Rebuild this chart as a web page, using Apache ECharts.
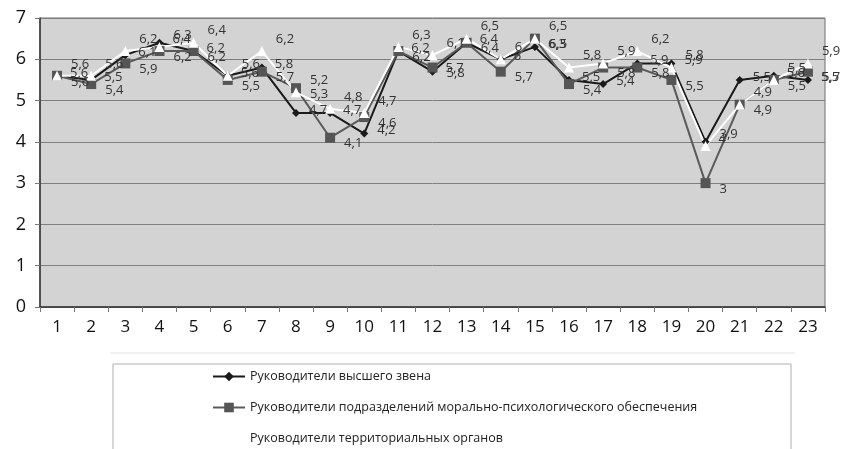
<!DOCTYPE html>
<html>
<head>
<meta charset="utf-8">
<script src="https://cdn.jsdelivr.net/npm/echarts@6/dist/echarts.min.js"></script>
<style>
  html, body { margin: 0; padding: 0; background: #fff; }
  #chart { width: 841px; height: 449px; }
</style>
</head>
<body>
<div id="chart"></div>
<script>
// данные с картинки
var categories = ['1','2','3','4','5','6','7','8','9','10','11','12','13','14','15','16','17','18','19','20','21','22','23'];
var seriesNames = [
  'Руководители высшего звена',
  'Руководители подразделений морально-психологического обеспечения',
  'Руководители территориальных органов'
];
var topLeaders = [5.6, 5.5, 6.1, 6.4, 6.2, 5.6, 5.8, 4.7, 4.7, 4.2, 6.2, 5.7, 6.4, 6.0, 6.3, 5.5, 5.4, 5.9, 5.9, 4.0, 5.5, 5.6, 5.5];
var mpoLeaders = [5.6, 5.4, 5.9, 6.2, 6.2, 5.5, 5.7, 5.3, 4.1, 4.6, 6.2, 5.8, 6.4, 5.7, 6.5, 5.4, 5.8, 5.8, 5.5, 3.0, 4.9, 5.5, 5.7];
var territorialLeaders = [5.6, 5.6, 6.2, 6.3, 6.4, 5.6, 6.2, 5.2, 4.8, 4.7, 6.3, 6.1, 6.5, 6.0, 6.5, 5.8, 5.9, 6.2, 5.8, 3.9, 4.9, 5.5, 5.9];

var chart = echarts.init(document.getElementById('chart'));

function commaLabel(p) {
  return String(p.value).replace('.', ',');
}

function labelStyle(offsetY) {
  return {
    show: true,
    position: 'right',
    distance: 9,
    offset: [0, offsetY],
    formatter: commaLabel,
    color: '#333',
    fontSize: 13,
    fontFamily: 'Open Sans'
  };
}

var option = {
  animation: false,
  backgroundColor: '#fff',
  grid: {
    left: 40, top: 18, right: 16, bottom: 142,
    show: true,
    backgroundColor: '#d3d3d3',
    borderColor: '#6e6e6e',
    borderWidth: 1
  },
  legend: {
    orient: 'vertical',
    left: 212,
    top: 370,
    padding: 0,
    itemWidth: 32,
    itemHeight: 12,
    itemGap: 18,
    textStyle: { color: '#222', fontSize: 12.5, fontFamily: 'Open Sans' },
    data: seriesNames
  },
  graphic: [
    { type: 'line', shape: { x1: 110, y1: 353, x2: 795, y2: 353 }, style: { stroke: '#e2e2e2', lineWidth: 1 }, silent: true },
    { type: 'rect', z: -1, shape: { x: 113, y: 364, width: 678, height: 100 }, style: { fill: '#fff', stroke: '#b0b0b0', lineWidth: 1 }, silent: true }
  ],
  xAxis: {
    type: 'category',
    data: categories,
    boundaryGap: true,
    axisLine: { lineStyle: { color: '#333', width: 1.5 } },
    axisTick: { show: true, length: 5, lineStyle: { color: '#777' } },
    axisLabel: { color: '#111', fontSize: 17, fontFamily: 'Open Sans', margin: 12 }
  },
  yAxis: {
    type: 'value',
    min: 0, max: 7, interval: 1,
    axisLine: { show: true, lineStyle: { color: '#333', width: 1.5 } },
    axisTick: { show: true, length: 5, lineStyle: { color: '#777' } },
    axisLabel: { color: '#111', fontSize: 18, fontFamily: 'Open Sans', margin: 14 },
    splitLine: { lineStyle: { color: '#7f7f7f', width: 1 } }
  },
  series: [
    {
      name: seriesNames[0],
      type: 'line',
      data: topLeaders,
      symbol: 'diamond',
      symbolSize: 8,
      lineStyle: { color: '#1a1a1a', width: 2 },
      itemStyle: { color: '#1a1a1a' },
      label: labelStyle(-3)
    },
    {
      name: seriesNames[1],
      type: 'line',
      data: mpoLeaders,
      symbol: 'rect',
      symbolSize: 10,
      lineStyle: { color: '#5a5a5a', width: 2 },
      itemStyle: { color: '#555' },
      label: labelStyle(6)
    },
    {
      name: seriesNames[2],
      type: 'line',
      data: territorialLeaders,
      symbol: 'triangle',
      symbolSize: 10,
      lineStyle: { color: '#fff', width: 2 },
      itemStyle: { color: '#fff' },
      label: labelStyle(-12)
    }
  ]
};

chart.setOption(option);
</script>
</body>
</html>
